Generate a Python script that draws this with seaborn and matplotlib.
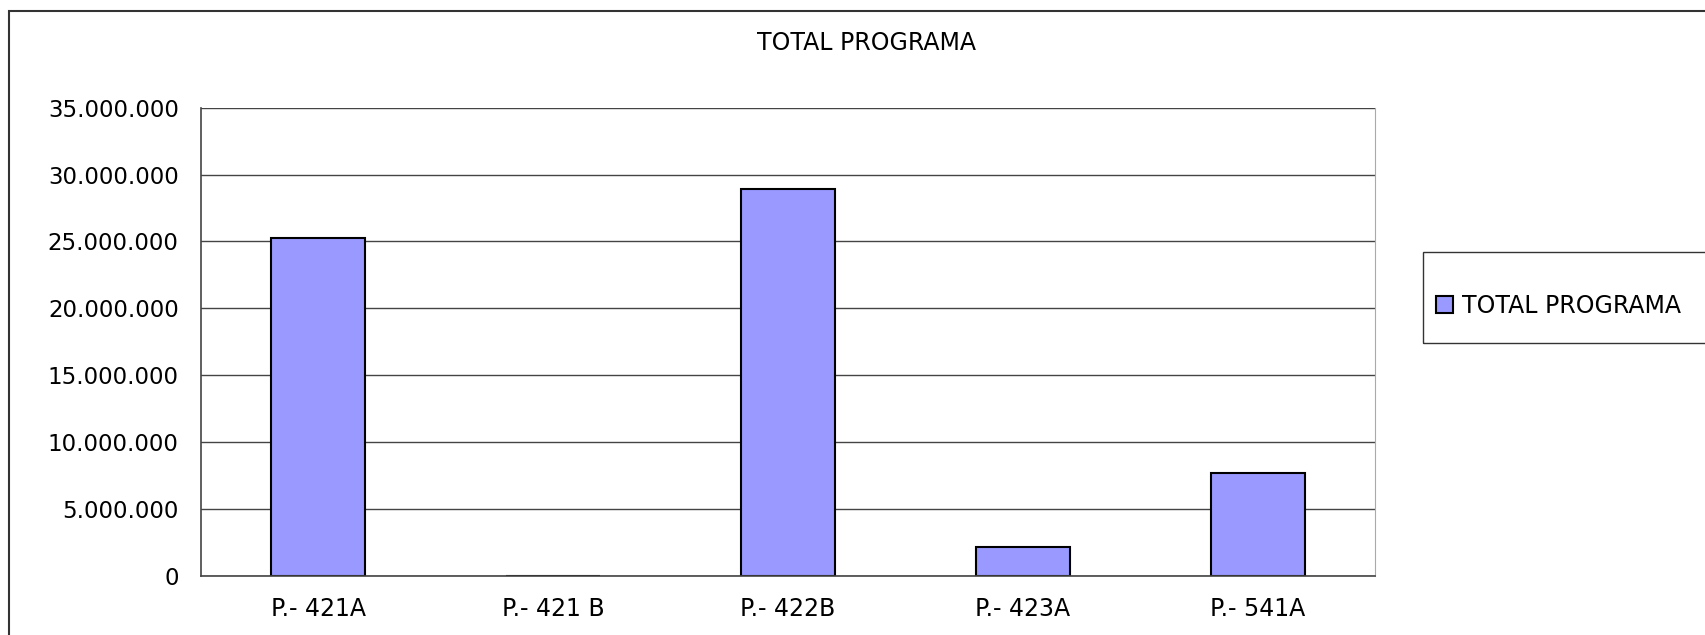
import matplotlib
matplotlib.use('Agg')
import matplotlib.pyplot as plt
import matplotlib.ticker as mticker
from matplotlib.patches import Rectangle
import seaborn as sns
import pandas as pd

programas = ['P.- 421A', 'P.- 421 B', 'P.- 422B', 'P.- 423A', 'P.- 541A']
total_programa = [25250000, 0, 28900000, 2170000, 7660000]
titulo = 'TOTAL PROGRAMA'

datos = pd.DataFrame({'Programa': programas, 'Total': total_programa})

sns.set_style('white')
plt.rcParams['font.family'] = ['DejaVu Sans']
plt.rcParams['text.color'] = 'black'
plt.rcParams['xtick.color'] = 'black'
plt.rcParams['ytick.color'] = 'black'

fig = plt.figure(figsize=(17.06, 6.35), dpi=100)
ax = fig.add_axes([0.1178, 0.0934, 0.806 - 0.1178, 0.8304 - 0.0934])

sns.barplot(x='Programa', y='Total', data=datos, ax=ax, color='#9999FF',
            width=0.4, edgecolor='black', linewidth=1.5, saturation=1,
            label=titulo, legend=False)

ax.set_xlim(-0.5, len(programas) - 0.5)
ax.set_ylim(0, 35000000)
ax.yaxis.set_major_locator(mticker.MultipleLocator(5000000))
ax.yaxis.set_major_formatter(mticker.FuncFormatter(lambda v, p: f'{int(v):,}'.replace(',', '.')))
ax.grid(axis='y', color='#444444', linewidth=1)
ax.set_axisbelow(True)

ax.set_xlabel('')
ax.set_ylabel('')
ax.tick_params(axis='y', direction='out', length=8, width=1, color='#444444', pad=8, labelsize=16.5)
ax.tick_params(axis='x', which='major', length=0, pad=15, labelsize=17)
ax.set_xticks([i + 0.5 for i in range(-1, len(programas))], minor=True)
ax.tick_params(axis='x', which='minor', direction='out', length=8, width=1, color='#444444')

for lado in ['left', 'bottom']:
    ax.spines[lado].set_color('#444444')
    ax.spines[lado].set_linewidth(1.2)
ax.spines['right'].set_color('#AAAAAA')
ax.spines['top'].set_visible(False)

fig.text(0.508, 0.932, titulo, ha='center', va='center', fontsize=17)

# caja de la leyenda
fig.patches.append(Rectangle((1423 / 1706, 1 - 343 / 635), 0.2, 91 / 635, transform=fig.transFigure,
                             fill=False, edgecolor='#333333', linewidth=1))
handles = [ax.containers[0]]
leg = fig.legend(handles, [titulo], loc='center left', bbox_to_anchor=(1436 / 1706, 1 - 306 / 635),
                 fontsize=17, frameon=False, borderpad=0, borderaxespad=0,
                 handlelength=0.7, handleheight=0.7, handletextpad=0.4)

# marco exterior
fig.patches.append(Rectangle((9 / 1706, -0.1), 1.2, 1.1 - 11 / 635, transform=fig.transFigure,
                             fill=False, edgecolor='#333333', linewidth=1.5))

fig.savefig('out.png', dpi=100)
